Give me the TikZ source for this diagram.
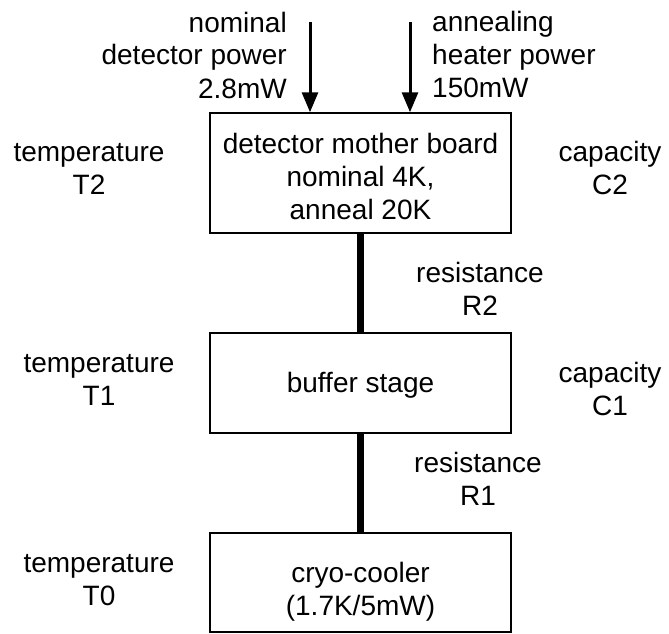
\documentclass[tikz,border=0pt]{standalone}
\usepackage{fontspec}
\setmainfont{Liberation Sans}
\usetikzlibrary{arrows.meta}
\begin{document}
\begin{tikzpicture}[x=1pt,y=-1pt,
  box/.style={draw,line width=1.5pt,minimum width=301pt,inner sep=0pt},
  lab/.style={font=\fontsize{28}{33}\selectfont,align=center,inner sep=0pt,anchor=base},
  thick link/.style={line width=7pt},
  power/.style={line width=3pt,-{Triangle[length=20pt,width=16pt]}}]
\useasboundingbox (0,0) rectangle (669,634);
% boxes
\node[box,minimum height=120pt] (b1) at (360.5,173) {};
\node[box,minimum height=100pt] (b2) at (360.5,383) {};
\node[box,minimum height=99pt] (b3) at (360.5,582.5) {};
% box texts
\node[lab] (t1) at (360.5,219) {detector mother board\\nominal 4K,\\anneal 20K};
\node[lab] (t2) at (360.5,392) {buffer stage};
\node[lab] (t3) at (360.5,615) {cryo-cooler\\(1.7K/5mW)};
% links
\draw[thick link] (b1.south) -- (b2.north);
\draw[thick link] (b2.south) -- (b3.north);
% power arrows
\coordinate (p1) at (310,22);
\coordinate (p2) at (410,22);
\draw[power] (p1) -- (p1 |- b1.north);
\draw[power] (p2) -- (p2 |- b1.north);
\node[lab,align=right,anchor=base east] (np) at (287,98) {nominal\\detector power\\2.8mW};
\node[lab,align=left,anchor=base west] (ah) at (432,97) {annealing\\heater power\\150mW};
% side labels
\node[lab] (T2) at (89,194) {temperature\\T2};
\node[lab] (C2) at (610,194) {capacity\\C2};
\node[lab] (R2) at (480,315) {resistance\\R2};
\node[lab] (T1) at (99,405) {temperature\\T1};
\node[lab] (C1) at (610,415) {capacity\\C1};
\node[lab] (R1) at (478,505) {resistance\\R1};
\node[lab] (T0) at (99,605) {temperature\\T0};
\end{tikzpicture}
\end{document}
